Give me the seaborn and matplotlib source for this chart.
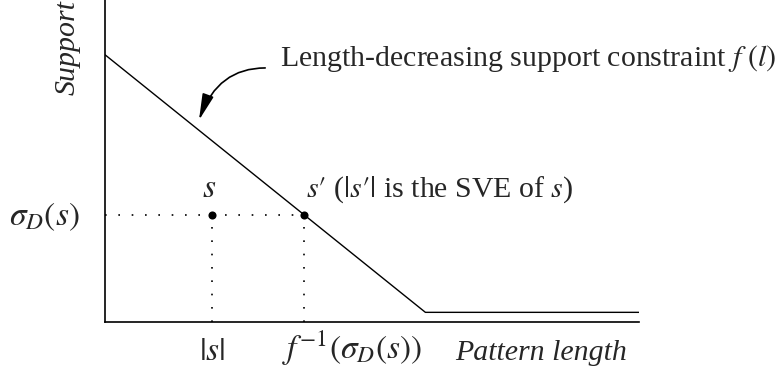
import matplotlib
matplotlib.use("Agg")
import matplotlib.pyplot as plt
import seaborn as sns
import pandas as pd

# ---- data ----
pattern_length = [0.0, 6.0, 10.0]       # knots of f(l)
support_value = [8.3, 0.3, 0.3]
s_length = 2.0                           # |s|
s_prime_length = 3.73                    # f^{-1}(sigma_D(s))
sigma_s = 3.32                           # sigma_D(s)

point_x = [s_length, s_prime_length]
point_y = [sigma_s, sigma_s]

sns.set_style("white")
plt.rcParams['font.family'] = ['Liberation Serif', 'DejaVu Serif']
plt.rcParams['mathtext.fontset'] = 'stix'

fig = plt.figure(figsize=(7.79, 3.75), dpi=100)
ax = fig.add_axes([105/779, 1 - 322/375, 534/779, 322/375])

df = pd.DataFrame({"len": pattern_length, "sup": support_value})
sns.lineplot(data=df, x="len", y="sup", ax=ax, color="black", lw=1.0,
             sort=False, estimator=None)

dot = (0, (1, 7))
ax.hlines(sigma_s, 0, s_prime_length, colors="black", linestyles=dot, lw=1.2)
ax.vlines([s_length, s_prime_length], 0, sigma_s, colors="black",
          linestyles=dot, lw=1.2)

sns.scatterplot(x=point_x, y=point_y, ax=ax, color="black", s=34,
                edgecolor="black", linewidth=0, zorder=5)

ax.set_xlim(0, 10)
ax.set_ylim(0, 10)
ax.set_xticks([])
ax.set_yticks([])
ax.set_xlabel("")
ax.set_ylabel("")
sns.despine(ax=ax)
for sp in ("left", "bottom"):
    ax.spines[sp].set_linewidth(1.2)
    ax.spines[sp].set_color("black")

fs = 21.5    # plain text
fm = 24      # pure math labels
# labels near points
ax.annotate(r"$s$", xy=(s_length, sigma_s), xytext=(-2, 13),
            textcoords="offset points", ha="center", va="baseline", fontsize=fm)
ax.annotate(r"$s\prime$ ($|s\prime|$ is the SVE of $s$)", xy=(s_prime_length, sigma_s),
            xytext=(1, 13), textcoords="offset points", ha="left",
            va="baseline", fontsize=fs)
ax.annotate(r"$\sigma_D(s)$", xy=(0, sigma_s), xytext=(-18, -7),
            textcoords="offset points", ha="right", va="baseline",
            fontsize=fm, annotation_clip=False)
ax.annotate(r"$|s|$", xy=(s_length, 0), xytext=(0, -27),
            textcoords="offset points", ha="center", va="baseline",
            fontsize=fm, annotation_clip=False)
ax.annotate(r"$f^{-1}(\sigma_D(s))$", xy=(s_prime_length, 0), xytext=(-16, -27),
            textcoords="offset points", ha="left", va="baseline",
            fontsize=fm, annotation_clip=False)
ax.annotate("Pattern length", xy=(0.655, 0), xycoords="axes fraction",
            xytext=(0, -27), textcoords="offset points", ha="left",
            va="baseline", fontsize=fs, fontstyle="italic",
            annotation_clip=False)
ax.annotate("Support", xy=(0, 1), xycoords="axes fraction",
            xytext=(-27, 0), textcoords="offset points", ha="center",
            va="top", rotation=90, fontsize=fs, fontstyle="italic",
            annotation_clip=False)

ax.text(0.328, 0.795, r"Length-decreasing support constraint $f\,\,(l)$",
        transform=ax.transAxes, ha="left", va="baseline", fontsize=fs)

ax.annotate("", xy=(0.176, 0.627), xycoords="axes fraction",
            xytext=(0.300, 0.789), textcoords="axes fraction",
            arrowprops=dict(arrowstyle="-|>,head_length=1.0,head_width=0.22",
                            connectionstyle="angle3,angleA=0,angleB=70",
                            color="black", lw=1.2, mutation_scale=16,
                            shrinkA=0, shrinkB=0))

fig.savefig("out.png", dpi=100)
